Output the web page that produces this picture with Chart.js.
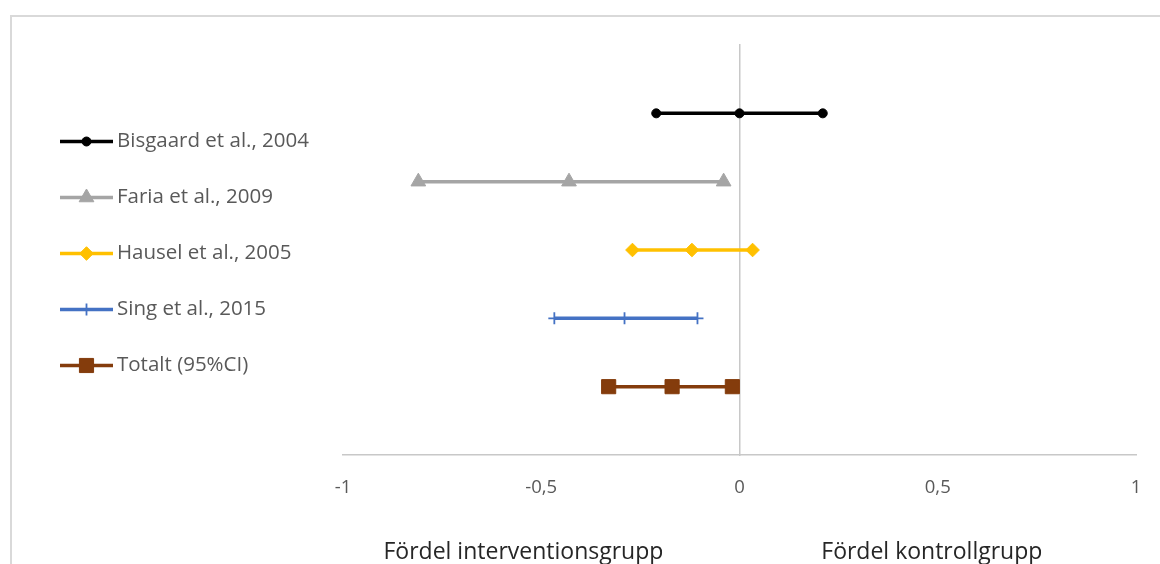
<!DOCTYPE html>
<html>
<head>
<meta charset="utf-8">
<script src="https://cdn.jsdelivr.net/npm/chart.js@4/dist/chart.umd.min.js"></script>
<style>
  html, body { margin: 0; padding: 0; background: #fff; overflow: hidden; }
  #frame { position: absolute; left: 10px; top: 15px; width: 1180px; height: 600px;
           border: 2px solid #d9d9d9; box-sizing: border-box; }
  #wrap { position: absolute; left: 0; top: 0; width: 1160px; height: 564px; }
</style>
</head>
<body>
<div id="frame"></div>
<div id="wrap"><canvas id="forest"></canvas></div>
<script>
// Studies in the meta-analysis, top to bottom
const studies  = ['Bisgaard et al., 2004', 'Faria et al., 2009', 'Hausel et al., 2005', 'Sing et al., 2015', 'Totalt (95%CI)'];
// Lower CI limit, point estimate, upper CI limit
const lower    = [-0.21, -0.81, -0.27, -0.467, -0.33];
const estimate = [ 0.00, -0.43, -0.12, -0.29,  -0.17];
const upper    = [ 0.21, -0.04,  0.033, -0.106, -0.018];
// Vertical row of each study
const rowPos   = [5, 4, 3, 2, 1];
// Axis ticks and the two side captions
const xTicks   = [-1, -0.5, 0, 0.5, 1];
const sideCaptions = ['Fördel interventionsgrupp', 'Fördel kontrollgrupp'];

const colors  = ['#000000', '#a5a5a5', '#ffc000', '#4472c4', '#843c0c'];
const shapes  = ['circle', 'triangle', 'rectRot', 'cross', 'rect'];
const radii   = [4.5, 8.5, 6.8, 6, 10];

const FONT = "'Open Sans', 'Liberation Sans', sans-serif";

const datasets = studies.map((name, i) => ({
  label: name,
  data: [
    { x: lower[i], y: rowPos[i] },
    { x: estimate[i], y: rowPos[i] },
    { x: upper[i], y: rowPos[i] }
  ],
  showLine: true,
  borderColor: colors[i],
  backgroundColor: colors[i],
  borderWidth: 3.5,
  pointStyle: shapes[i],
  pointRadius: radii[i],
  pointBorderWidth: shapes[i] === 'cross' ? 1.8 : 1,
  pointBorderColor: colors[i],
  pointBackgroundColor: colors[i]
}));

// Legend drawn as line + marker samples, Excel style
const lineLegend = {
  id: 'lineLegend',
  afterDraw(chart) {
    const ctx = chart.ctx;
    const top = 141.5, gap = 56;
    chart.data.datasets.forEach((ds, i) => {
      const y = top + i * gap;
      ctx.save();
      ctx.strokeStyle = ds.borderColor;
      ctx.lineWidth = 3.5;
      ctx.beginPath();
      ctx.moveTo(60, y);
      ctx.lineTo(113, y);
      ctx.stroke();
      ctx.fillStyle = ds.pointBackgroundColor;
      ctx.strokeStyle = ds.pointBorderColor;
      ctx.lineWidth = ds.pointBorderWidth;
      Chart.helpers.drawPoint(ctx, {
        pointStyle: ds.pointStyle, radius: ds.pointRadius, rotation: 0, borderWidth: ds.pointBorderWidth
      }, 86.5, y);
      ctx.fillStyle = '#595959';
      ctx.font = '20.5px ' + FONT;
      ctx.textBaseline = 'middle';
      ctx.textAlign = 'left';
      ctx.fillText(ds.label, 117, y);
      ctx.restore();
    });
  }
};

// Captions under the x axis on each side of zero
const captions = {
  id: 'captions',
  afterDraw(chart) {
    const ctx = chart.ctx;
    const xs = chart.scales.x;
    ctx.save();
    ctx.fillStyle = '#262626';
    ctx.font = '23px ' + FONT;
    ctx.textAlign = 'center';
    ctx.textBaseline = 'middle';
    ctx.fillText(sideCaptions[0], xs.getPixelForValue(-0.545), 552);
    ctx.fillText(sideCaptions[1], xs.getPixelForValue(0.485), 552);
    ctx.restore();
  }
};

new Chart(document.getElementById('forest'), {
  type: 'scatter',
  data: { datasets },
  options: {
    responsive: true,
    maintainAspectRatio: false,
    animation: false,
    events: [],
    layout: { padding: { left: 343, right: 24, top: 45, bottom: 0 } },
    plugins: { legend: { display: false }, tooltip: { enabled: false } },
    scales: {
      x: {
        type: 'linear',
        min: -1, max: 1,
        afterBuildTicks(scale) { scale.ticks = xTicks.map(v => ({ value: v })); },
        afterFit(scale) { scale.height = 109; scale.paddingLeft = 0; scale.paddingRight = 0; },
        grid: { display: false, drawTicks: false },
        border: { display: true, color: '#c8c8c8', width: 1.5 },
        ticks: {
          padding: 22,
          color: '#595959',
          font: { family: FONT, size: 18.5 },
          callback: v => String(v).replace('.', ',')
        }
      },
      y: {
        type: 'linear',
        position: { x: 0 },
        min: 0, max: 6,
        afterFit(scale) { scale.width = 0; },
        grid: { display: false, drawTicks: false },
        border: { display: true, color: '#c8c8c8', width: 1.5 },
        ticks: { display: false }
      }
    }
  },
  plugins: [lineLegend, captions]
});
</script>
</body>
</html>
